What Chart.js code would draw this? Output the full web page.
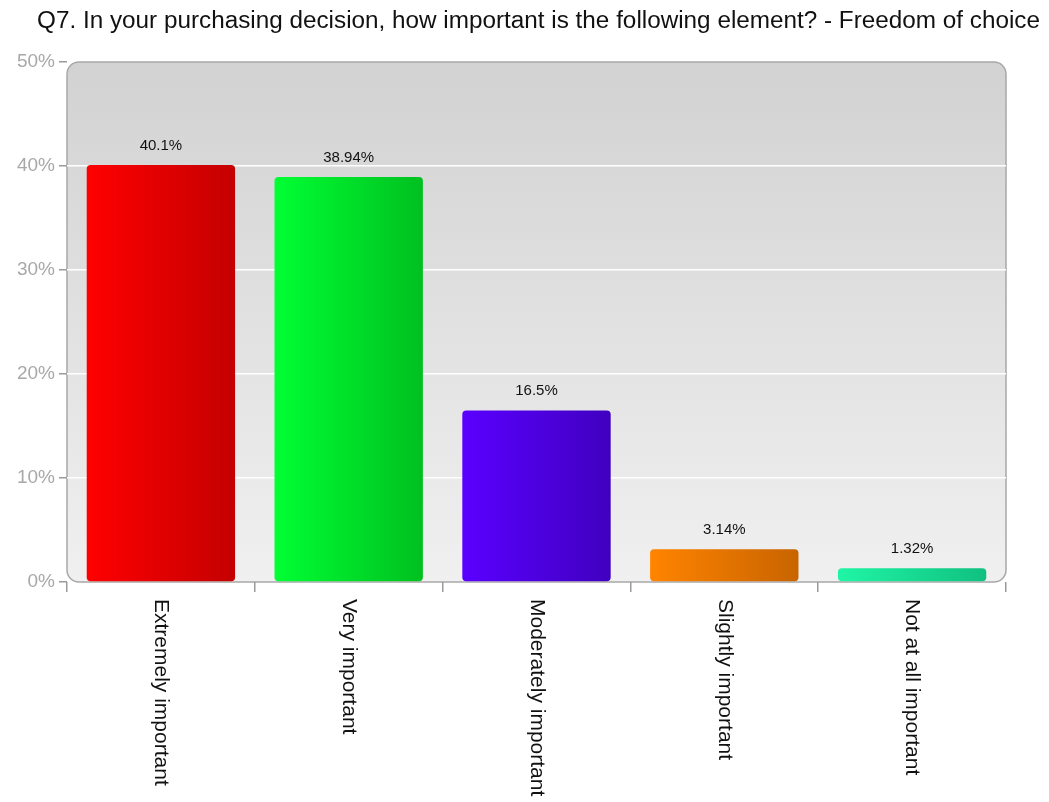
<!DOCTYPE html>
<html>
<head>
<meta charset="utf-8">
<script src="https://cdn.jsdelivr.net/npm/chart.js@4"></script>
<style>
  body { margin: 0; background: #fff; }
  #wrap { width: 1049px; height: 802px; }
</style>
</head>
<body>
<div id="wrap"><canvas id="surveyChart" width="1049" height="802"></canvas></div>
<script>
const titleText = 'Q7. In your purchasing decision, how important is the following element? - Freedom of choice';
const categories = ['Extremely important', 'Very important', 'Moderately important', 'Slightly important', 'Not at all important'];
const percentages = [40.1, 38.94, 16.5, 3.14, 1.32];
const yTicks = [0, 10, 20, 30, 40, 50];
// left (light) and right (dark) colour of each bar's gradient
const lightColors = ['#ff0000', '#00ff33', '#5a00ff', '#ff8400', '#20f5a5'];
const darkColors = ['#c40000', '#00c020', '#4000c0', '#c86400', '#10c080'];

const BAR_PCT = 0.79;

function barFill(context) {
    const chart = context.chart;
    const i = context.dataIndex;
    const xs = chart.scales.x;
    if (!chart.chartArea || !xs || xs.width === 0) return lightColors[i];
    const cx = xs.getPixelForValue(i);
    const half = xs.width / categories.length * BAR_PCT / 2;
    const g = chart.ctx.createLinearGradient(cx - half, 0, cx + half, 0);
    g.addColorStop(0, lightColors[i]);
    g.addColorStop(1, darkColors[i]);
    return g;
}

// rounded grey panel behind the bars
const panelPlugin = {
    id: 'panel',
    beforeDraw(chart) {
        const { ctx, chartArea: a } = chart;
        const g = ctx.createLinearGradient(0, a.top, 0, a.bottom);
        g.addColorStop(0, '#d2d2d2');
        g.addColorStop(1, '#f0f0f0');
        ctx.save();
        ctx.beginPath();
        ctx.roundRect(a.left, a.top, a.right - a.left, a.bottom - a.top, 12);
        ctx.fillStyle = g;
        ctx.fill();
        ctx.lineWidth = 1.5;
        ctx.strokeStyle = '#a8a8a8';
        ctx.stroke();
        ctx.restore();
    }
};

// title, value labels and clockwise-rotated category labels
const textPlugin = {
    id: 'texts',
    afterDraw(chart) {
        const { ctx, chartArea: a } = chart;
        const xs = chart.scales.x, ys = chart.scales.y;
        ctx.save();
        // title, fitted to the width seen in the picture
        ctx.font = '23px "Liberation Sans", Arial, sans-serif';
        ctx.fillStyle = '#111';
        ctx.textBaseline = 'alphabetic';
        const w = ctx.measureText(titleText).width;
        ctx.save();
        ctx.translate(37, 28);
        ctx.scale(1003 / w, 1);
        ctx.fillText(titleText, 0, 0);
        ctx.restore();

        // values above bars
        ctx.font = '15px "Liberation Sans", Arial, sans-serif';
        ctx.textAlign = 'center';
        ctx.textBaseline = 'bottom';
        ctx.fillStyle = '#111';
        percentages.forEach((v, i) => {
            ctx.fillText(v + '%', xs.getPixelForValue(i), ys.getPixelForValue(v) - 12);
        });

        // category labels, reading top to bottom
        ctx.font = '21px "Liberation Sans", Arial, sans-serif';
        ctx.textAlign = 'left';
        ctx.textBaseline = 'middle';
        categories.forEach((c, i) => {
            ctx.save();
            ctx.translate(xs.getPixelForValue(i), a.bottom + 17);
            ctx.rotate(Math.PI / 2);
            ctx.fillText(c, 0, 0);
            ctx.restore();
        });
        ctx.restore();
    }
};

new Chart(document.getElementById('surveyChart'), {
    type: 'bar',
    data: {
        labels: categories,
        datasets: [{
            data: percentages,
            backgroundColor: barFill,
            borderRadius: 4,
            borderSkipped: false,
            barPercentage: BAR_PCT,
            categoryPercentage: 1
        }]
    },
    options: {
        responsive: false,
        animation: false,
        layout: { padding: { top: 62, right: 43, left: 0, bottom: 0 } },
        scales: {
            y: {
                min: 0,
                max: 50,
                afterFit(s) { s.width = 67; },
                afterBuildTicks(s) { s.ticks = yTicks.map(v => ({ value: v })); },
                border: { display: false },
                grid: {
                    color: (c) => (c.tick && (c.tick.value === 0 || c.tick.value === 50)) ? 'rgba(0,0,0,0)' : '#ffffff',
                    tickColor: '#9a9a9a',
                    tickLength: 8,
                    lineWidth: 1.5
                },
                ticks: {
                    color: '#a8a8a8',
                    padding: 4,
                    font: { family: '"Liberation Sans", Arial, sans-serif', size: 19 },
                    callback: (v) => v + '%'
                }
            },
            x: {
                afterFit(s) { s.height = 220; },
                border: { display: false },
                grid: {
                    drawOnChartArea: false,
                    tickColor: '#9a9a9a',
                    tickLength: 10,
                    lineWidth: 1.5
                },
                ticks: { display: false }
            }
        },
        plugins: {
            legend: { display: false },
            tooltip: { enabled: false }
        }
    },
    plugins: [panelPlugin, textPlugin]
});
</script>
</body>
</html>
